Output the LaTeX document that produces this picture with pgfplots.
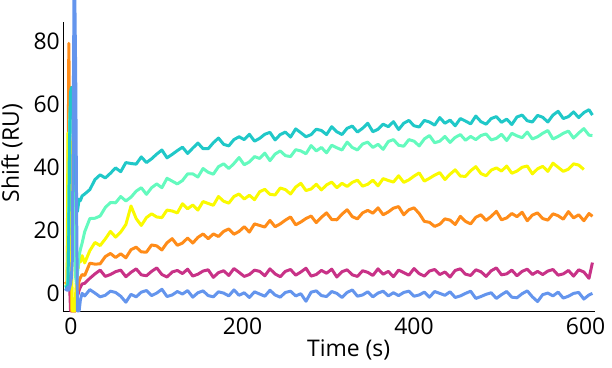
\documentclass[border=0pt]{standalone}
\usepackage{pgfplots}
\usepackage{pgfplotstable}
\pgfplotsset{compat=1.18}
\usepackage{fontspec}
\setmainfont{Open Sans}
\definecolor{cBlue}{RGB}{100,149,237}
\definecolor{cMag}{RGB}{200,50,135}
\definecolor{cOra}{RGB}{255,140,25}
\definecolor{cYel}{RGB}{250,250,0}
\definecolor{cAqu}{RGB}{100,250,190}
\definecolor{cTur}{RGB}{32,200,200}
\pgfplotstableread{
t B M O Y A C
-7 1.5 3.0 3.0 2.5 2.0 2.0
-4.5 1.0 3.2 3.5 2.5 2.5 2.0
-3.5 2.0 4.0 30 51 5 3
-2.5 1.0 6.4 79.5 50 30 20
-1.5 2.0 2.0 52 49 55 50
-0.5 3.0 -5.6 30 48 62 64
0.5 5.0 -5.6 -5.6 20 60 65.5
1.5 10 -5.6 -5.6 -5.6 55 62
2.5 50 -5.6 -5.6 -5.6 50 56
3.5 94 -5.6 -5.6 -5.6 40 55
4.5 94 -5.6 -5.6 -5.6 20 50
5.5 70 -5.6 -5.6 0 5 35
6.5 30 -3 -3 5 3 27
7.5 -5.6 -1 0 9 6 26
8.5 -5.6 0 2 8 9 28
9.5 -5.6 1 4 11 12 30
11 -2 2 5 10 14 29.5
13 0 3 6 12 16 31
16 -0.8 3.2 5.7 9.7 19.6 31.6
22 1.2 4.8 9.6 13.6 23.8 33.0
28 0.1 6.2 9.3 16.2 23.9 36.2
34 -1.1 7.4 9.4 15.2 24.6 37.7
40 -0.6 5.4 11.7 17.3 27.3 36.7
46 0.7 6.0 12.7 19.7 28.9 38.2
52 0.3 6.9 11.4 17.9 28.8 39.9
58 -0.9 7.4 12.6 19.5 30.8 38.7
64 -2.8 5.3 11.3 21.9 29.4 41.6
70 -0.3 6.7 13.9 27.8 30.6 41.3
76 -1.1 7.8 14.7 23.8 32.5 41.1
82 0.4 5.9 13.2 21.6 33.6 43.4
88 0.9 5.6 13.1 24.1 31.5 41.6
94 -0.7 7.0 15.4 25.3 33.6 42.8
100 0.1 8.1 15.1 24.3 34.8 44.3
106 1.3 6.0 13.8 24.1 33.6 45.6
112 -1.0 5.2 16.1 26.5 36.6 43.1
118 -0.5 6.8 17.4 26.2 35.7 44.2
124 0.6 7.3 15.3 25.6 34.8 45.4
130 -0.2 6.3 16.0 28.5 35.9 46.5
136 0.9 7.7 17.6 26.9 38.0 44.5
142 -1.2 5.5 16.0 28.1 38.0 46.2
148 0.2 6.1 17.8 26.5 37.0 47.8
154 0.8 7.1 18.9 29.2 39.7 46.0
160 -0.7 7.5 17.4 28.6 38.5 46.0
166 -1.1 5.1 18.9 28.0 37.9 47.9
172 0.5 6.6 18.1 30.8 40.3 49.4
178 0.1 7.2 19.7 29.3 41.2 47.4
184 -0.8 5.7 20.5 28.7 39.7 46.9
190 1.1 7.9 18.8 30.8 41.3 48.9
196 -0.6 6.7 19.7 31.6 43.2 49.8
202 0.2 5.4 21.2 30.0 40.9 48.9
208 -1.3 6.0 19.5 31.2 41.8 50.6
214 0.5 7.4 22.1 29.8 43.5 48.4
220 -0.2 7.0 21.6 32.3 42.9 49.3
226 -0.9 5.6 21.1 33.1 44.6 50.6
232 1.0 7.8 23.2 31.5 42.2 51.2
238 -0.5 6.2 21.2 31.3 44.3 48.8
244 -1.2 5.3 22.1 33.5 45.3 50.5
250 0.3 7.0 23.3 33.0 43.8 51.3
256 0.7 7.6 24.3 31.6 43.5 49.7
262 -0.8 5.8 21.8 33.8 45.7 52.3
268 -0.1 6.8 22.7 35.0 45.3 51.1
274 -2.5 8.0 23.8 32.7 44.4 49.8
280 0.4 5.5 24.6 33.2 47.0 50.5
286 0.8 6.0 22.5 34.7 45.3 52.2
292 -0.7 7.3 24.2 32.9 46.4 51.8
298 -1.0 6.4 25.6 34.5 44.7 50.5
304 0.6 7.7 23.5 35.4 47.1 53.0
310 0.0 5.2 23.4 33.6 46.3 51.4
316 -1.3 6.9 25.2 35.0 45.6 50.5
322 0.3 7.5 26.6 34.0 48.1 52.5
328 1.1 5.9 24.4 35.3 46.4 53.2
334 -0.9 5.4 23.7 36.0 45.6 51.3
340 -0.5 7.2 25.6 34.1 47.5 52.5
346 0.5 6.7 26.4 34.7 48.1 54.1
352 -1.1 5.7 25.5 36.0 46.4 51.4
358 0.1 7.8 27.2 34.2 47.4 52.2
364 0.7 6.1 25.0 36.5 45.8 53.8
370 -0.8 7.0 25.9 35.9 48.3 53.0
376 0.2 5.3 27.1 35.4 48.9 54.6
382 -0.7 7.4 27.6 37.4 47.1 52.1
388 0.3 6.6 25.0 35.3 46.8 54.1
394 0.7 5.8 26.6 36.1 48.9 55.0
400 -0.9 7.9 27.2 37.3 48.4 53.3
406 -0.5 6.3 25.4 38.3 46.9 52.9
412 0.4 5.5 22.9 35.7 49.1 55.0
418 -1.2 7.1 22.6 36.6 50.2 54.5
424 0.6 7.6 21.3 37.6 47.9 53.5
430 0.0 6.0 22.0 38.4 48.4 55.9
436 -0.6 6.8 23.7 36.2 49.9 54.1
442 0.5 5.2 23.3 37.9 48.0 55.1
448 -1.3 7.3 21.9 39.3 49.6 53.3
454 -0.8 7.8 24.5 37.3 50.5 55.6
460 0.0 6.1 22.9 37.2 48.7 54.8
466 0.7 5.7 22.1 39.0 49.9 53.9
472 -1.6 7.5 24.2 40.3 48.9 56.4
478 -1.0 6.9 25.0 38.1 50.2 54.6
484 -0.3 5.4 23.2 37.4 50.7 53.8
490 0.2 7.2 24.5 39.2 48.8 55.6
496 -1.6 8.1 26.1 39.9 49.3 56.2
502 -0.4 5.9 23.4 38.9 50.6 54.4
508 0.6 6.2 24.0 40.5 48.6 55.4
514 -1.2 7.4 25.4 38.2 50.9 53.7
520 -1.4 5.6 24.4 38.9 50.1 56.1
526 -0.1 7.0 25.8 40.1 49.5 56.7
532 0.8 7.7 23.1 40.5 51.3 54.9
538 -1.1 6.0 24.9 38.0 49.1 54.5
544 -2.6 7.0 25.6 39.6 49.8 56.6
550 -0.4 6.0 23.8 40.4 50.9 56.0
556 0.1 7.1 23.3 38.8 51.8 54.5
562 -0.8 7.6 25.3 41.4 49.1 56.7
568 0.4 5.8 24.7 40.1 49.9 57.9
574 -1.5 6.2 23.6 38.8 50.9 55.6
580 -0.9 7.3 26.0 39.5 51.6 56.2
586 0.0 5.5 24.0 41.2 49.4 57.7
592 0.3 7.5 25.0 40.8 51.0 55.9
598 -1.8 6.8 23.1 39.4 52.4 57.5
604 -0.5 4.8 25.4 nan 50.3 58.4
608 0.0 9.8 24.5 nan 50.2 56.7
}\data
\begin{document}
\begin{tikzpicture}
\useasboundingbox (-63bp,-57bp) rectangle (549bp,311bp);
\begin{axis}[
  scale only axis, width=532bp, height=289bp,
  xmin=-9.3, xmax=611, ymin=-5.6, ymax=86.3,
  axis lines=left,
  axis line style={-, line width=0.9pt, black},
  xtick={0,200,400,600}, ytick={0,20,40,60,80},
  major tick length=0pt,
  /pgf/number format/assume math mode=true,
  tick label style={font=\fontsize{23}{27}\selectfont},
  xticklabel style={inner ysep=7bp},
  yticklabel style={inner xsep=3bp},
  label style={font=\fontsize{23}{27}\selectfont},
  xlabel={Time (s)}, ylabel={Shift (RU)},
  xlabel style={at={(ticklabel cs:0.537)}, anchor=north, inner sep=0pt, yshift=3bp},
  ylabel style={at={(ticklabel cs:0.547)}, anchor=south, inner sep=1bp, yshift=7bp},
  clip=false,
  every axis plot/.append style={line width=3pt, line join=round, no marks},
]
\addplot[cMag] table[x=t, y=M] {\data};
\addplot[cOra] table[x=t, y=O] {\data};
\addplot[cYel] table[x=t, y=Y] {\data};
\addplot[cAqu] table[x=t, y=A] {\data};
\addplot[cTur] table[x=t, y=C] {\data};
\addplot[cBlue] table[x=t, y=B] {\data};
\end{axis}
\end{tikzpicture}
\end{document}
